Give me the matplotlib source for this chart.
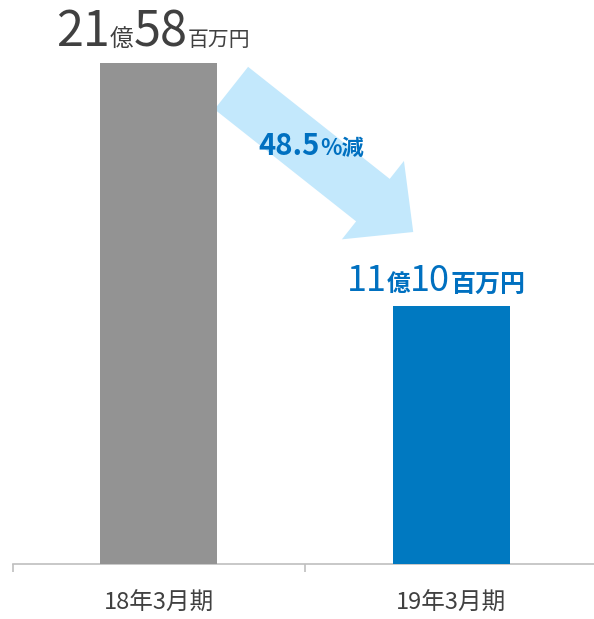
import matplotlib
matplotlib.use("Agg")
import matplotlib.pyplot as plt
from matplotlib.offsetbox import TextArea, HPacker, AnnotationBbox

plt.rcParams['font.family'] = ['Noto Sans CJK JP', 'DejaVu Sans']

# data (百万円)
categories = ['18年3月期', '19年3月期']
values = [2158, 1110]
bar_colors = ['#939393', '#0079c1']
label_parts = [
    [('21', 35, 'normal'), ('億', 17, 'normal'), ('58', 35, 'normal'), ('百万円', 15, 'normal')],
    [('11', 26, 'normal'), ('億', 17, 'bold'), ('10', 26, 'normal'), ('百万円', 18, 'bold')],
]
label_colors = ['#404040', '#0070c0']
change_text = [('48.5', 21, 'bold'), ('%減', 16, 'bold')]

fig = plt.figure(figsize=(5.94, 6.19), dpi=100)
ax = fig.add_axes([12.5 / 594, 55 / 619, 585 / 594, 564 / 619])

x = list(range(len(categories)))
ax.bar(x, values, width=0.40, color=bar_colors, zorder=3)

ax.set_xlim(-0.5, 1.5)
ax.set_ylim(0, values[0] * 564 / 501)

for s in ['top', 'right', 'left']:
    ax.spines[s].set_visible(False)
ax.spines['bottom'].set_color('#bfbfbf')
ax.spines['bottom'].set_linewidth(1.2)
ax.set_yticks([])
ax.set_xticks([-0.5, 0.5, 1.5])
ax.set_xticks(x, minor=True)
ax.set_xticklabels(['', '', ''])
ax.tick_params(axis='x', which='major', length=6, color='#bfbfbf', width=1.2)
ax.tick_params(axis='x', which='minor', length=0, labelsize=17, colors='#404040', pad=20)
ax.set_xticklabels(categories, minor=True)


def packed(parts, color):
    boxes = [TextArea(t, textprops=dict(fontsize=s, fontweight=w, color=color)) for t, s, w in parts]
    return HPacker(children=boxes, align='baseline', pad=0, sep=0)


offsets = [(-4, 4), (-11, 5)]
for xi, v, parts, c, off in zip(x, values, label_parts, label_colors, offsets):
    ab = AnnotationBbox(packed(parts, c), (xi, v), xybox=off, xycoords='data',
                        boxcoords='offset points', box_alignment=(0.5, 0),
                        frameon=False, pad=0, annotation_clip=False)
    ax.add_artist(ab)

# decrease arrow between bars
ax.annotate('', xy=(0.870, 1430), xytext=(0.248, 2050), xycoords='data',
            arrowprops=dict(arrowstyle='simple,head_length=3.7,head_width=7.2,tail_width=3.9',
                            mutation_scale=10, fc='#c3e8fc', ec='none',
                            shrinkA=0, shrinkB=0), zorder=1)

ab = AnnotationBbox(packed(change_text, '#0070c0'), (0.521, 1800), xycoords='data',
                    box_alignment=(0.5, 0.5), frameon=False, pad=0)
ax.add_artist(ab)

fig.savefig('out.png', dpi=100)
